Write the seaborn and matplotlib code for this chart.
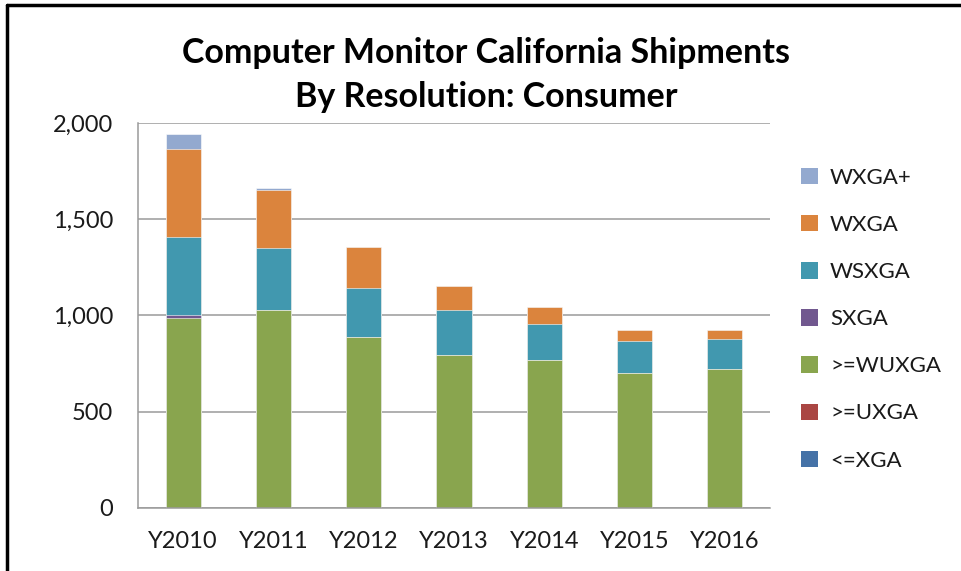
import numpy as np
import pandas as pd
import matplotlib
matplotlib.use("Agg")
import matplotlib.pyplot as plt
from matplotlib.lines import Line2D
from matplotlib.patches import Patch
from matplotlib.ticker import FuncFormatter, MultipleLocator, FixedLocator
import seaborn as sns

# ==========================
# Data
# ==========================

years = ["Y2010", "Y2011", "Y2012", "Y2013", "Y2014", "Y2015", "Y2016"]

xga = [0, 0, 0, 0, 0, 0, 0]
uxga = [0, 0, 0, 0, 0, 0, 0]
wuxga = [988, 1028, 888, 794, 768, 700, 721]
sxga = [14, 0, 0, 0, 0, 0, 0]
wsxga = [407, 321, 254, 234, 187, 168, 154]
wxga = [458, 305, 211, 126, 87, 54, 47]
wxga_plus = [76, 7, 0, 0, 0, 0, 0]

series_names = ["<=XGA", ">=UXGA", ">=WUXGA", "SXGA", "WSXGA", "WXGA", "WXGA+"]
series_values = [xga, uxga, wuxga, sxga, wsxga, wxga, wxga_plus]
series_colors = ["#4572A7", "#AA4643", "#89A54E", "#71588F",
                 "#4198AF", "#DB843D", "#93A9CF"]

# ==========================
# Stack
# ==========================

df = pd.DataFrame(
    dict(zip(series_names, series_values)),
    index=years
)

cum = df.cumsum(axis=1)

# ==========================
# Figure
# ==========================

sns.set_style("white")
plt.rcParams["font.family"] = ["Lato", "DejaVu Sans"]

fig = plt.figure(figsize=(9.62, 5.71), dpi=100)
ax = fig.add_axes([0.1435, 0.1109, 0.6569, 0.6737])

# draw tallest cumulative first so lower segments sit on top
for name, color in reversed(list(zip(series_names, series_colors))):
    sns.barplot(
        x=years,
        y=cum[name].values,
        color=color,
        width=0.39,
        edgecolor="white",
        linewidth=0.4,
        saturation=1,
        ax=ax
    )

# ==========================
# Axes styling
# ==========================

ax.set_ylim(0, 2000)
ax.set_xlim(-0.5, len(years) - 0.5)

ax.yaxis.set_major_locator(MultipleLocator(500))
ax.yaxis.set_major_formatter(FuncFormatter(lambda v, p: f"{int(v):,}"))

ax.grid(axis="y", color="#9A9A9A", linewidth=1.1)
ax.set_axisbelow(True)

for side in ["top", "right"]:
    ax.spines[side].set_visible(False)
for side in ["left", "bottom"]:
    ax.spines[side].set_color("#9A9A9A")
    ax.spines[side].set_linewidth(1.1)

# boundary ticks on x, labels centred under bars
ax.xaxis.set_major_locator(FixedLocator(np.arange(-0.5, len(years), 1.0)))
ax.xaxis.set_minor_locator(FixedLocator(np.arange(len(years))))
ax.set_xticklabels([], minor=False)
ax.set_xticklabels(years, minor=True)

ax.tick_params(axis="x", which="major", length=8, width=1.1, color="#9A9A9A", direction="out")
ax.tick_params(axis="x", which="minor", length=0, pad=17, labelsize=17, labelcolor="#1a1a1a")
ax.tick_params(axis="y", length=8, width=1.1, color="#9A9A9A", direction="out",
               pad=10, labelsize=17, labelcolor="#1a1a1a")

ax.set_xlabel("")
ax.set_ylabel("")

# ==========================
# Title
# ==========================

fig.text(
    0.505, 0.908,
    "Computer Monitor California Shipments",
    ha="center", va="center",
    fontsize=24.5, fontweight="bold", color="black"
)

fig.text(
    0.505, 0.83,
    "By Resolution: Consumer",
    ha="center", va="center",
    fontsize=24.5, fontweight="bold", color="black"
)

# ==========================
# Legend
# ==========================

handles = [
    Patch(facecolor=c, edgecolor="none", label=n)
    for n, c in zip(series_names, series_colors)
][::-1]

fig.legend(
    handles=handles,
    loc="upper left",
    bbox_to_anchor=(0.812, 0.741),
    frameon=False,
    fontsize=16,
    handlelength=0.75,
    handleheight=0.75,
    handletextpad=0.55,
    labelspacing=1.22,
    labelcolor="#1a1a1a"
)

# ==========================
# Frame (left + top)
# ==========================

fig.add_artist(Line2D([0.0075, 0.0075], [0, 0.992], color="black", linewidth=2.5,
                      transform=fig.transFigure))
fig.add_artist(Line2D([0.0075, 1], [0.992, 0.992], color="black", linewidth=2.5,
                      transform=fig.transFigure))

fig.savefig("out.png", dpi=100, facecolor="white")
plt.close(fig)
